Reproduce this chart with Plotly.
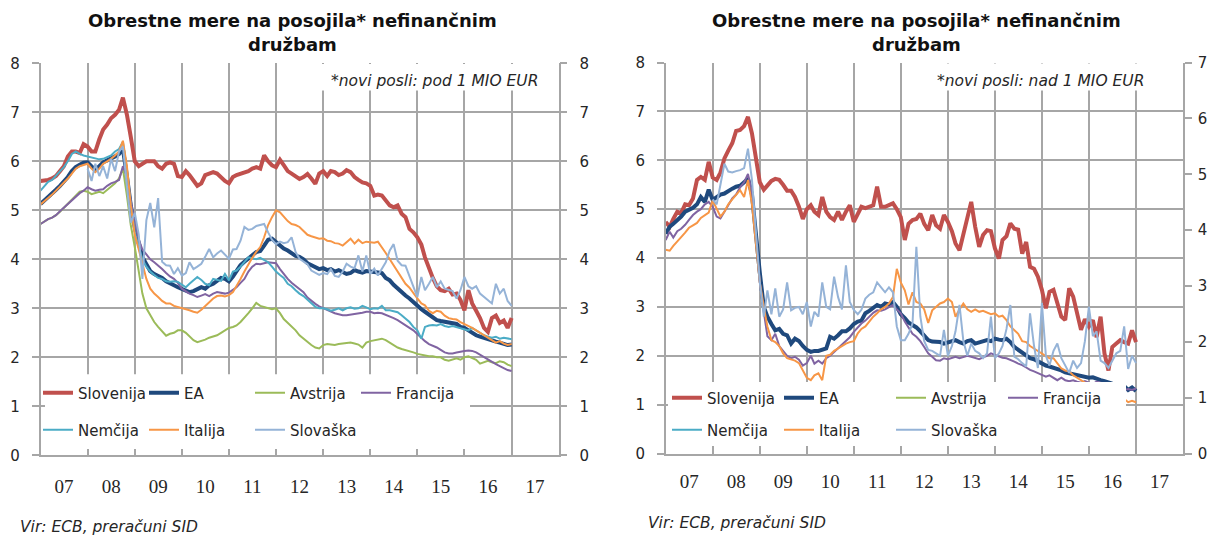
import plotly.graph_objects as go
import pandas as pd

W, H = 1216, 537
# the photographed page maps figure y to 0.968*y + 8.3; place items so they land where intended
def fy(y): return (y - 8.3) / 0.968
def px(x): return x / W
def py(y): return 1 - fy(y) / H

# ---------------- data ----------------
months = pd.date_range("2007-01-01", periods=121, freq="MS")
YEARS = list(range(2007, 2018))
YEAR_LABELS = ["07", "08", "09", "10", "11", "12", "13", "14", "15", "16", "17"]
NA = [None] * 12

# Left panel: new business below 1 MIO EUR
slo_l = [5.60, 5.60, 5.62, 5.65, 5.70, 5.80, 5.90, 6.10, 6.20, 6.20, 6.17, 6.35,
         6.30, 6.20, 6.20, 6.45, 6.65, 6.75, 6.88, 6.95, 7.05, 7.30, 6.95, 6.50,
         6.00, 5.90, 5.95, 6.00, 6.00, 6.00, 5.90, 5.85, 5.95, 5.98, 5.95, 5.70,
         5.68, 5.80, 5.72, 5.60, 5.50, 5.55, 5.72, 5.75, 5.78, 5.75, 5.67, 5.60,
         5.55, 5.68, 5.72, 5.75, 5.76, 5.80, 5.85, 5.88, 5.85, 6.12, 6.00, 5.92,
         5.88, 6.03, 5.92, 5.80, 5.75, 5.70, 5.64, 5.68, 5.74, 5.65, 5.54, 5.75,
         5.80, 5.70, 5.80, 5.78, 5.72, 5.75, 5.82, 5.78, 5.68, 5.62, 5.57, 5.55,
         5.50, 5.30, 5.32, 5.30, 5.20, 5.10, 5.06, 5.10, 4.93, 4.86, 4.62, 4.55,
         4.45, 4.30, 4.04, 3.80, 3.62, 3.45, 3.37, 3.35, 3.40, 3.28, 3.30, 3.17,
         2.96, 3.37, 3.10, 2.95, 2.80, 2.60, 2.52, 2.80, 2.85, 2.70, 2.75, 2.60,
         2.80]
ea_l = [5.13, 5.20, 5.28, 5.35, 5.42, 5.50, 5.58, 5.68, 5.80, 5.88, 5.93, 5.97,
        5.98, 5.90, 5.82, 5.90, 5.98, 6.02, 6.05, 6.10, 6.15, 6.25, 5.70, 5.10,
        4.65, 4.30, 4.05, 3.90, 3.76, 3.70, 3.66, 3.62, 3.55, 3.50, 3.47, 3.43,
        3.40, 3.37, 3.33, 3.35, 3.38, 3.43, 3.40, 3.47, 3.50, 3.55, 3.62, 3.60,
        3.55, 3.65, 3.77, 3.88, 3.95, 4.03, 4.08, 4.15, 4.17, 4.28, 4.40, 4.42,
        4.35, 4.28, 4.22, 4.18, 4.12, 4.07, 4.05, 4.00, 3.92, 3.88, 3.84, 3.80,
        3.82, 3.78, 3.80, 3.75, 3.78, 3.74, 3.70, 3.72, 3.78, 3.75, 3.73, 3.76,
        3.74, 3.74, 3.73, 3.72, 3.62, 3.57, 3.48, 3.40, 3.32, 3.26, 3.20, 3.12,
        3.05, 2.98, 2.93, 2.87, 2.80, 2.76, 2.74, 2.73, 2.72, 2.70, 2.68, 2.62,
        2.60, 2.55, 2.50, 2.45, 2.42, 2.40, 2.37, 2.35, 2.32, 2.30, 2.27, 2.25,
        2.26]
at_l = [4.72, 4.78, 4.82, 4.85, 4.90, 4.97, 5.05, 5.12, 5.22, 5.30, 5.38, 5.40,
        5.38, 5.33, 5.35, 5.38, 5.35, 5.42, 5.50, 5.55, 5.65, 5.85, 5.30, 4.70,
        4.25, 3.75, 3.30, 3.00, 2.85, 2.72, 2.62, 2.52, 2.44, 2.48, 2.50, 2.55,
        2.55, 2.50, 2.42, 2.35, 2.31, 2.33, 2.36, 2.40, 2.42, 2.45, 2.50, 2.55,
        2.60, 2.62, 2.65, 2.72, 2.80, 2.90, 3.00, 3.11, 3.05, 3.03, 3.00, 2.98,
        3.00, 2.90, 2.78, 2.70, 2.62, 2.55, 2.45, 2.38, 2.32, 2.25, 2.20, 2.18,
        2.25, 2.27, 2.26, 2.25, 2.27, 2.28, 2.30, 2.30, 2.28, 2.26, 2.20, 2.30,
        2.33, 2.35, 2.36, 2.38, 2.35, 2.30, 2.25, 2.20, 2.17, 2.15, 2.13, 2.10,
        2.07, 2.05, 2.03, 2.02, 2.02, 2.00, 2.00, 1.95, 1.93, 1.95, 1.98, 1.95,
        2.00, 2.02, 1.98, 1.95, 1.87, 1.90, 1.93, 1.90, 1.88, 1.92, 1.90, 1.85,
        1.82]
fr_l = [4.72, 4.78, 4.82, 4.85, 4.90, 4.98, 5.05, 5.12, 5.20, 5.28, 5.35, 5.40,
        5.47, 5.43, 5.40, 5.42, 5.43, 5.50, 5.55, 5.58, 5.62, 5.90, 5.70, 5.20,
        4.75, 4.40, 4.20, 4.10, 4.00, 3.94, 3.88, 3.80, 3.72, 3.65, 3.60, 3.52,
        3.40, 3.35, 3.30, 3.27, 3.23, 3.26, 3.29, 3.25, 3.30, 3.33, 3.31, 3.30,
        3.32, 3.38, 3.43, 3.52, 3.60, 3.75, 3.85, 3.91, 3.90, 3.92, 3.94, 3.93,
        3.92, 3.80, 3.70, 3.60, 3.52, 3.45, 3.40, 3.33, 3.22, 3.15, 3.09, 3.04,
        3.00, 2.96, 2.93, 2.90, 2.88, 2.86, 2.86, 2.87, 2.88, 2.90, 2.91, 2.93,
        2.93, 2.90, 2.91, 2.90, 2.87, 2.84, 2.80, 2.76, 2.70, 2.65, 2.60, 2.55,
        2.47, 2.40, 2.33, 2.27, 2.24, 2.20, 2.15, 2.10, 2.08, 2.08, 2.10, 2.12,
        2.13, 2.14, 2.13, 2.10, 2.05, 2.00, 1.95, 1.90, 1.86, 1.82, 1.78, 1.74,
        1.72]
de_l = [5.40, 5.50, 5.58, 5.62, 5.70, 5.80, 5.88, 6.00, 6.15, 6.20, 6.15, 6.12,
        6.10, 6.08, 6.05, 6.04, 6.05, 6.08, 6.12, 6.20, 6.25, 6.40, 5.80, 5.10,
        4.55, 4.25, 4.00, 3.85, 3.75, 3.68, 3.62, 3.60, 3.55, 3.54, 3.55, 3.54,
        3.48, 3.43, 3.50, 3.57, 3.64, 3.58, 3.50, 3.47, 3.60, 3.58, 3.56, 3.70,
        3.57, 3.75, 3.77, 3.85, 3.95, 4.04, 4.02, 4.00, 4.03, 3.98, 3.94, 3.85,
        3.75, 3.68, 3.62, 3.50, 3.45, 3.37, 3.30, 3.25, 3.18, 3.10, 3.03, 3.00,
        3.00, 2.98, 2.95, 2.97, 3.00, 2.96, 3.00, 3.02, 2.99, 3.00, 3.05, 3.02,
        2.98, 3.00, 2.99, 3.05, 2.96, 2.96, 2.94, 2.92, 2.86, 2.80, 2.72, 2.62,
        2.55, 2.38, 2.62, 2.65, 2.66, 2.65, 2.68, 2.64, 2.62, 2.64, 2.62, 2.60,
        2.58, 2.55, 2.60, 2.55, 2.50, 2.45, 2.42, 2.40, 2.42, 2.38, 2.40, 2.38,
        2.37]
it_l = [5.12, 5.18, 5.25, 5.32, 5.40, 5.48, 5.55, 5.65, 5.75, 5.85, 5.90, 5.93,
        5.95, 5.85, 5.78, 5.85, 5.95, 6.00, 6.05, 6.12, 6.20, 6.42, 5.90, 5.10,
        4.50, 4.20, 3.90, 3.60, 3.40, 3.30, 3.23, 3.15, 3.10, 3.10, 3.05, 3.03,
        3.00, 2.98, 2.96, 2.93, 2.91, 2.97, 3.05, 3.12, 3.20, 3.25, 3.26, 3.24,
        3.27, 3.33, 3.45, 3.60, 3.75, 3.90, 4.03, 4.15, 4.25, 4.45, 4.70, 4.86,
        5.00, 4.96, 4.88, 4.78, 4.72, 4.70, 4.66, 4.58, 4.50, 4.47, 4.45, 4.42,
        4.43, 4.38, 4.37, 4.33, 4.32, 4.28, 4.35, 4.42, 4.32, 4.40, 4.33, 4.36,
        4.35, 4.34, 4.36, 4.25, 4.13, 4.00, 3.88, 3.77, 3.62, 3.50, 3.42, 3.30,
        3.20, 3.10, 3.06, 2.95, 2.90, 2.95, 2.93, 2.85, 2.80, 2.78, 2.77, 2.72,
        2.68, 2.65, 2.60, 2.55, 2.50, 2.45, 2.40, 2.35, 2.30, 2.33, 2.28, 2.25,
        2.27]
sk_l = NA + [
        5.85, 5.60, 5.95, 5.70, 5.90, 5.65, 6.05, 5.80, 6.20, 6.30, 5.50, 4.75,
        4.95, 4.50, 3.60, 4.80, 5.15, 4.65, 5.25, 3.95, 3.88, 3.87, 3.70, 3.82,
        3.67, 3.72, 3.94, 3.80, 3.85, 3.91, 4.05, 4.21, 4.04, 4.12, 4.18, 4.10,
        4.01, 4.20, 4.21, 4.38, 4.66, 4.60, 4.62, 4.68, 4.70, 4.72, 4.55, 4.40,
        4.31, 4.36, 4.33, 4.35, 4.45, 4.15, 4.01, 3.95, 3.90, 3.77, 3.72, 3.68,
        3.72, 3.70, 3.80, 3.66, 3.64, 3.75, 3.91, 3.85, 3.82, 4.08, 3.75, 4.08,
        3.70, 3.81, 3.67, 3.80, 3.94, 4.18, 4.31, 3.97, 3.88, 3.87, 3.64, 3.43,
        3.23, 3.64, 3.37, 3.50, 3.64, 3.43, 3.55, 3.40, 3.37, 3.35, 3.20, 3.37,
        3.64, 3.45, 3.40, 3.45, 3.30, 3.23, 3.15, 3.10, 3.50, 3.30, 3.40, 3.15,
        3.05]

# Right panel: new business above 1 MIO EUR
slo_r = [4.74, 4.64, 4.80, 4.95, 4.92, 5.10, 5.08, 5.22, 5.60, 5.66, 5.60, 5.97,
         5.65, 5.60, 5.75, 6.04, 6.20, 6.35, 6.60, 6.62, 6.70, 6.89, 6.55, 6.10,
         5.55, 5.40, 5.50, 5.58, 5.62, 5.60, 5.50, 5.38, 5.38, 5.25, 5.05, 4.80,
         5.00, 5.08, 4.95, 4.88, 5.25, 4.95, 4.84, 4.78, 4.95, 4.78, 4.95, 5.08,
         4.74, 4.90, 5.05, 5.02, 5.05, 5.08, 5.46, 5.05, 5.05, 5.08, 5.12, 5.00,
         4.84, 4.37, 4.70, 4.78, 4.80, 4.91, 4.70, 4.57, 4.88, 4.67, 4.60, 4.88,
         4.74, 4.55, 4.30, 4.16, 4.50, 4.90, 5.15, 4.64, 4.23, 4.47, 4.57, 4.55,
         4.20, 3.99, 4.37, 4.45, 4.71, 4.60, 4.58, 4.09, 4.33, 3.82, 3.78, 3.62,
         3.35, 2.97, 3.31, 3.35, 3.05, 2.80, 2.73, 3.38, 3.21, 2.90, 2.53, 2.75,
         2.60, 2.73, 2.38, 2.80, 2.05, 1.70, 2.18, 2.25, 2.32, 2.28, 2.25, 2.52,
         2.28]
ea_r = [4.50, 4.64, 4.70, 4.77, 4.85, 4.95, 4.98, 5.03, 5.10, 5.25, 5.15, 5.40,
        5.19, 5.25, 5.30, 5.32, 5.38, 5.42, 5.46, 5.48, 5.55, 5.63, 5.30, 4.40,
        3.70, 3.00, 2.80, 2.65, 2.52, 2.55, 2.45, 2.42, 2.25, 2.35, 2.30, 2.20,
        2.12, 2.08, 2.10, 2.10, 2.12, 2.15, 2.39, 2.35, 2.42, 2.50, 2.50, 2.56,
        2.65, 2.70, 2.72, 2.87, 2.92, 2.97, 3.04, 3.00, 3.07, 3.05, 3.10, 3.00,
        2.85, 2.77, 2.68, 2.63, 2.58, 2.50, 2.42, 2.32, 2.29, 2.29, 2.28, 2.25,
        2.27, 2.30, 2.32, 2.28, 2.25, 2.30, 2.32, 2.25, 2.28, 2.30, 2.32, 2.30,
        2.35, 2.33, 2.32, 2.35, 2.28, 2.18, 2.12, 2.05, 2.00, 1.95, 1.93, 1.88,
        1.85, 1.80, 1.78, 1.76, 1.72, 1.70, 1.66, 1.64, 1.62, 1.62, 1.60, 1.58,
        1.55, 1.56, 1.52, 1.50, 1.48, 1.45, 1.43, 1.42, 1.40, 1.38, 1.30, 1.35,
        1.28]
at_r = [None] * 121
fr_r = [4.37, 4.54, 4.42, 4.55, 4.60, 4.68, 4.78, 4.88, 4.95, 5.00, 5.10, 5.15,
        5.05, 4.85, 4.81, 4.95, 5.08, 5.22, 5.30, 5.45, 5.55, 5.72, 5.35, 4.40,
        3.50, 2.90, 2.40, 2.32, 2.45, 2.20, 2.10, 2.00, 1.95, 1.98, 1.92, 1.80,
        1.85, 2.00, 1.84, 1.90, 1.84, 1.95, 2.00, 2.08, 2.15, 2.22, 2.32, 2.38,
        2.49, 2.58, 2.66, 2.72, 2.80, 2.88, 2.93, 2.92, 2.95, 3.00, 3.04, 2.95,
        2.87, 2.70, 2.58, 2.45, 2.39, 2.30, 2.18, 2.05, 1.98, 1.91, 1.90, 1.95,
        1.93, 1.96, 1.98, 1.95, 1.97, 2.00, 1.98, 1.96, 1.93, 1.97, 2.00, 2.05,
        2.02, 1.98, 1.96, 1.95, 1.92, 1.88, 1.84, 1.81, 1.76, 1.71, 1.68, 1.64,
        1.60, 1.57, 1.60, 1.55, 1.50, 1.55, 1.50, 1.48, 1.50, 1.47, 1.45, 1.48,
        1.45, 1.42, 1.47, 1.45, 1.42, 1.40, 1.38, 1.35, 1.33, 1.30, 1.32, 1.30,
        1.33]
de_r = [None] * 121
it_r = [4.17, 4.15, 4.25, 4.35, 4.43, 4.52, 4.62, 4.67, 4.72, 4.82, 4.87, 4.93,
        5.18, 5.00, 4.85, 4.95, 5.10, 5.20, 5.30, 5.39, 5.25, 5.60, 5.10, 4.30,
        3.50, 3.00, 2.60, 2.32, 2.28, 2.20, 2.05, 1.95, 1.93, 1.90, 1.85, 1.70,
        1.55, 1.50, 1.60, 1.64, 1.50, 2.00, 2.02, 2.10, 2.15, 2.20, 2.25, 2.28,
        2.30, 2.46, 2.55, 2.60, 2.70, 2.80, 2.87, 2.95, 3.00, 3.07, 3.20, 3.78,
        3.50, 3.34, 3.05, 3.30, 3.10, 3.07, 2.95, 2.67, 2.93, 3.00, 3.07, 3.10,
        3.17, 3.10, 2.80, 2.95, 3.07, 2.95, 2.90, 2.95, 2.90, 2.92, 2.88, 2.85,
        2.87, 2.80, 2.82, 2.73, 2.60, 2.53, 2.45, 2.30, 2.28, 2.20, 2.15, 2.10,
        2.05, 2.00, 1.95, 1.95, 1.85, 1.74, 1.70, 1.68, 1.60, 1.55, 1.50, 1.45,
        1.40, 1.38, 1.35, 1.30, 1.28, 1.25, 1.20, 1.18, 1.15, 1.12, 1.05, 1.08,
        1.05]
sk_r = NA + [
        5.20, 5.10, 5.50, 5.93, 5.77, 5.75, 5.78, 5.80, 5.84, 6.24, 5.60, 4.60,
        3.50, 2.80, 3.34, 2.85, 3.38, 2.80, 2.95, 3.50, 2.93, 2.98, 3.00, 2.85,
        3.10, 2.60, 2.90, 2.80, 3.50, 3.00, 2.95, 3.62, 3.20, 2.95, 3.85, 3.10,
        2.94, 2.85, 2.94, 3.17, 3.25, 3.30, 3.50, 3.40, 3.30, 3.40, 3.30, 2.60,
        2.32, 2.32, 2.45, 2.66, 4.23, 2.80, 2.30, 2.12, 2.10, 2.05, 2.00, 2.53,
        2.00, 2.20, 2.50, 3.04, 2.30, 2.00, 2.25, 2.10, 2.05, 1.95, 2.05, 2.80,
        1.95, 2.05, 2.20, 2.55, 3.04, 1.98, 1.93, 1.85, 1.78, 2.87, 2.20, 1.75,
        3.08, 2.00, 1.80, 2.10, 2.25, 1.95, 1.80, 1.65, 1.90, 1.75, 1.85, 2.30,
        3.00, 2.40, 2.50, 1.90, 1.85, 1.75, 1.90, 2.05, 2.10, 2.60, 1.73, 2.00,
        1.85]

SERIES = ["Slovenija", "EA", "Avstrija", "Francija", "Nemčija", "Italija", "Slovaška"]
COLORS = ["#C0504D", "#1F497D", "#9BBB59", "#8064A2", "#4BACC6", "#F79646", "#95B3D7"]
WIDTHS = [4, 4, 2, 2, 2, 2, 2]
LEFT = [slo_l, ea_l, at_l, fr_l, de_l, it_l, sk_l]
RIGHT = [slo_r, ea_r, at_r, fr_r, de_r, it_r, sk_r]

GRID = "#A6A6A6"
TXT = "#262626"
SANS = "DejaVu Sans"

fig = go.Figure()
for k, name in enumerate(SERIES):
    row = "" if k < 4 else "2"
    fig.add_trace(go.Scatter(x=months, y=LEFT[k], name=name, mode="lines",
                             line=dict(color=COLORS[k], width=WIDTHS[k]),
                             xaxis="x", yaxis="y", legend="legend" + row,
                             connectgaps=False))
for k, name in enumerate(SERIES):
    row = "3" if k < 4 else "4"
    fig.add_trace(go.Scatter(x=months, y=RIGHT[k], name=name, mode="lines",
                             line=dict(color=COLORS[k], width=WIDTHS[k]),
                             xaxis="x2", yaxis="y2", legend="legend" + row,
                             connectgaps=False))
# invisible helper traces so the secondary (right-hand) axes get drawn
for xa, ya in (("x", "y3"), ("x2", "y4")):
    fig.add_trace(go.Scatter(x=months, y=slo_l, mode="lines", opacity=0,
                             line=dict(width=0), showlegend=False, hoverinfo="skip",
                             xaxis=xa, yaxis=ya))

# geometry (target pixels in the photographed picture)
L = dict(x0=40.5, x1=558.7, ytop=62.7, ybot=455.3)
R = dict(x0=665.7, x1=1183.0, ytop=62.0, ybot=453.5)

def xaxis(p, anchor, standoff):
    return dict(type="date", domain=[px(p["x0"]), px(p["x1"])], anchor=anchor,
                range=["2007-01-01", "2018-01-01"],
                tickmode="array", tickvals=[f"{y}-07-02" for y in YEARS], ticktext=YEAR_LABELS,
                showgrid=False, ticks="", showline=True, linecolor=GRID, linewidth=1.5,
                zeroline=False, ticklabelstandoff=standoff,
                tickfont=dict(family="Liberation Serif", size=19, color=TXT),
                minor=dict(dtick="M12", tick0="2007-01-01", showgrid=True,
                           gridcolor=GRID, gridwidth=1.5))

def yaxis(p, anchor, rng, side="left", overlay=None, grid=True, standoff=9):
    d = dict(domain=[py(p["ybot"]), py(p["ytop"])], anchor=anchor, range=rng,
             dtick=1, tick0=0, showgrid=grid, gridcolor=GRID, gridwidth=1.5,
             ticks="outside", ticklen=7, tickwidth=1.5, tickcolor=GRID,
             showline=True, linecolor=GRID, linewidth=1.5, zeroline=False,
             side=side, ticklabelstandoff=standoff,
             tickfont=dict(family=SANS, size=15, color=TXT))
    if overlay:
        d["overlaying"] = overlay
    return d

fig.update_layout(
    width=W, height=H, autosize=False,
    margin=dict(l=0, r=0, t=0, b=0),
    paper_bgcolor="white", plot_bgcolor="white",
    xaxis=xaxis(L, "y", 13), xaxis2=xaxis(R, "y2", 10),
    yaxis=yaxis(L, "x", [0, 8]),
    yaxis2=yaxis(R, "x2", [0, 8]),
    yaxis3=yaxis(L, "x", [0, 8], side="right", overlay="y", grid=False, standoff=9),
    yaxis4=yaxis(R, "x2", [0, 7], side="right", overlay="y2", grid=False, standoff=3),
)

LEG_FONT = dict(family=SANS, size=15, color=TXT)
def legend(x, y, ew):
    return dict(orientation="h", x=px(x), y=py(y), xanchor="left", yanchor="middle",
                entrywidth=ew, entrywidthmode="pixels", bgcolor="rgba(0,0,0,0)",
                borderwidth=0, font=LEG_FONT, traceorder="normal")

fig.update_layout(legend=legend(38, 393, 61), legend2=legend(38, 430, 61),
                  legend3=legend(667, 398, 67), legend4=legend(667, 430, 67))

# white boxes (legend area and footnote area)
for (x0, y0, x1, y1) in [(45, 374, 470, 449), (314, 63.5, 558, 90),
                         (668, 382, 1126, 446), (919, 62.8, 1182, 90)]:
    fig.add_shape(type="rect", xref="paper", yref="paper",
                  x0=px(x0), x1=px(x1), y0=py(y1), y1=py(y0),
                  fillcolor="white", line=dict(width=0), layer="above")

def ann(text, x, y, size, xanchor="center", bold=False, italic=False):
    fig.add_annotation(text=text, xref="paper", yref="paper", x=px(x), y=py(y),
                       xanchor=xanchor, yanchor="middle", showarrow=False,
                       font=dict(family=SANS, size=size, color="#111" if bold else TXT,
                                 weight="bold" if bold else "normal",
                                 style="italic" if italic else "normal"))

for cx in (292.5, 916.5):
    ann("Obrestne mere na posojila* nefinančnim", cx, 20, 18, bold=True)
    ann("družbam", cx, 44, 18, bold=True)
ann("*novi posli: pod 1 MIO EUR", 434, 80, 15.5, italic=True)
ann("*novi posli: nad 1 MIO EUR", 1040, 80, 15.5, italic=True)
ann("Vir: ECB, preračuni SID", 18, 527, 15.5, xanchor="left", italic=True)
ann("Vir: ECB, preračuni SID", 646, 523, 15.5, xanchor="left", italic=True)

POST = ("var s=document.documentElement.style;s.margin='0';s.padding='0';s.overflow='hidden';"
        "var b=document.body.style;b.margin='0';b.padding='0';b.overflow='hidden';")
fig.write_html("out.html", post_script=POST, config={"displayModeBar": False})
